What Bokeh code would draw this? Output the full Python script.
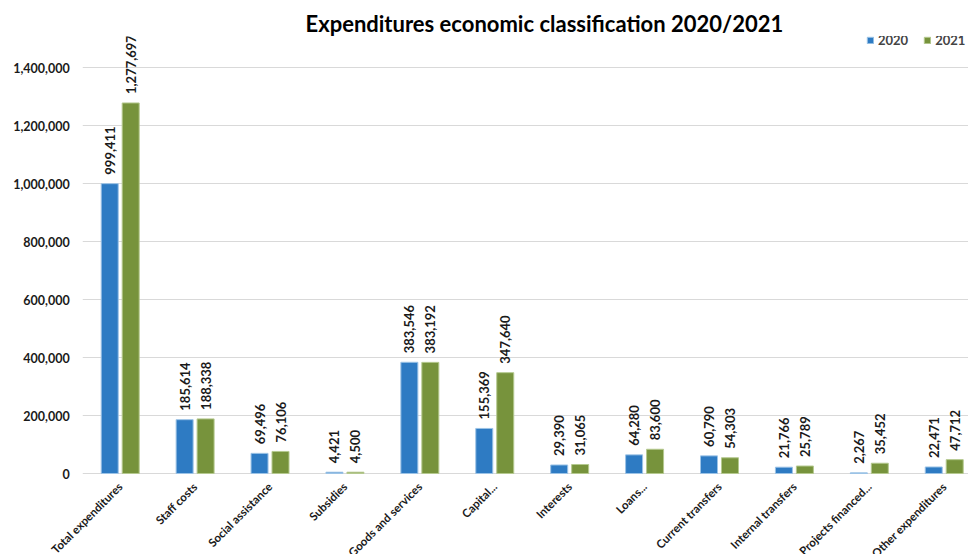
import math
from bokeh.plotting import figure
from bokeh.models import (ColumnDataSource, Range1d, FixedTicker, Legend, LegendItem, LabelSet)
from bokeh.core.properties import value
from bokeh.embed import file_html
from bokeh.resources import INLINE

categories = ["Total expenditures", "Staff costs", "Social assistance", "Subsidies",
              "Goods and services", "Capital...", "Interests", "Loans...",
              "Current transfers", "Internal transfers", "Projects financed...",
              "Other expenditures"]
values_2020 = [999411, 185614, 69496, 4421, 383546, 155369, 29390, 64280, 60790, 21766, 2267, 22471]
values_2021 = [1277697, 188338, 76106, 4500, 383192, 347640, 31065, 83600, 54303, 25789, 35452, 47712]
y_ticks = [0, 200000, 400000, 600000, 800000, 1000000, 1200000, 1400000]

BLUE = "#2E7BC3"
GREEN = "#77933C"
FONT = "Lato"
TXT = "#1a1a1a"

X_START, X_END = -1.598, 11.324
GRID_START = -0.5

idx = list(range(len(categories)))
src20 = ColumnDataSource(dict(x=[i - 0.14 for i in idx], y=values_2020,
                              lab=[f"{v:,}" for v in values_2020]))
src21 = ColumnDataSource(dict(x=[i + 0.14 for i in idx], y=values_2021,
                              lab=[f"{v:,}" for v in values_2021]))
src_cat = ColumnDataSource(dict(x=idx, y=[0] * len(idx), name=categories))
src_yt = ColumnDataSource(dict(x=[GRID_START] * len(y_ticks), x1=[X_END] * len(y_ticks),
                               y=y_ticks, lab=[f"{t:,}" for t in y_ticks]))

# The frame covers the page below the title so that all labels can be drawn freely.
p = figure(width=968, height=554, output_backend="svg", toolbar_location=None,
           x_range=Range1d(X_START, X_END), y_range=Range1d(-279310, 1506897),
           min_border_left=0, min_border_right=0, min_border_top=36, min_border_bottom=0)
p.outline_line_color = None
p.background_fill_color = "white"
p.xaxis.visible = False
p.yaxis.visible = False
p.xgrid.grid_line_color = None
p.ygrid.grid_line_color = None

# gridlines and the zero (category axis) line
p.segment(x0="x", y0="y", x1="x1", y1="y", source=src_yt,
          line_color="#d9d9d9", line_width=1)

r20 = p.vbar(x="x", top="y", width=0.227, source=src20, fill_color=BLUE, line_color="#9cc3e6", line_width=1)
r21 = p.vbar(x="x", top="y", width=0.227, source=src21, fill_color=GREEN, line_color="#b5c98f", line_width=1)

# value-axis labels
p.add_layout(LabelSet(x="x", y="y", text="lab", source=src_yt, x_offset=-13,
                      text_align="right", text_baseline="middle",
                      text_font=value(FONT), text_font_style="bold", text_font_size="12.5px",
                      text_color=TXT))

for src in (src20, src21):
    p.add_layout(LabelSet(x="x", y="y", text="lab", source=src, angle=math.pi / 2,
                          text_align="left", text_baseline="middle", x_offset=0, y_offset=9,
                          text_font=value(FONT), text_font_style="bold", text_font_size="13px",
                          text_color=TXT))

p.add_layout(LabelSet(x="x", y="y", text="name", source=src_cat, angle=math.pi / 4,
                      text_align="right", text_baseline="middle", x_offset=0, y_offset=-11,
                      text_font=value(FONT), text_font_style="bold", text_font_size="11.5px",
                      text_color=TXT))

p.title.text = "Expenditures economic classification 2020/2021"
p.title.text_font = FONT
p.title.text_font_style = "bold"
p.title.text_font_size = "22px"
p.title.align = "left"
p.title.offset = 305
p.title.standoff = 0
p.title.text_color = "#000000"

legend = Legend(items=[LegendItem(label="2020", renderers=[r20]),
                       LegendItem(label="2021", renderers=[r21])],
                orientation="horizontal", location=(866, 506),
                label_text_font=FONT, label_text_font_style="bold", label_text_font_size="13px",
                glyph_width=8, glyph_height=8, label_standoff=4, spacing=15,
                padding=0, margin=0, border_line_color=None, background_fill_alpha=0)
p.add_layout(legend)

open("out.html", "w").write(file_html(p, INLINE))
